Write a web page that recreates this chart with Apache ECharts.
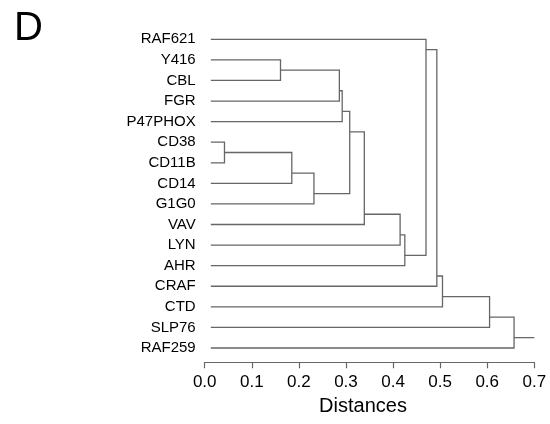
<!DOCTYPE html>
<html>
<head>
<meta charset="utf-8">
<script src="https://cdn.jsdelivr.net/npm/echarts@6/dist/echarts.min.js"></script>
<style>
  html, body { margin: 0; padding: 0; background: #fff; }
  #chart { width: 550px; height: 424px; }
</style>
</head>
<body>
<div id="chart"></div>
<script>
// leaves, top to bottom
const leaves = ["RAF621", "Y416", "CBL", "FGR", "P47PHOX", "CD38", "CD11B", "CD14",
  "G1G0", "VAV", "LYN", "AHR", "CRAF", "CTD", "SLP76", "RAF259"];
// hclust style: negative = leaf (1-based), positive = earlier merge (1-based)
const merges = [
  [-6, -7], [-2, -3], [1, -8], [3, -9], [2, -4], [5, -5], [6, 4], [7, -10],
  [8, -11], [9, -12], [-1, 10], [11, -13], [12, -14], [13, -15], [14, -16]
];
const heights = [0.042, 0.161, 0.185, 0.232, 0.286, 0.292, 0.308, 0.339,
  0.415, 0.425, 0.470, 0.493, 0.505, 0.605, 0.657];
const leafStart = 0.013;
const rootTip = 0.7;

// node info: height, y position, first / last leaf
const nodes = [];
function info(ref) {
  if (ref < 0) {
    const i = -ref - 1;
    return { h: leafStart, y: i, first: i, last: i };
  }
  return nodes[ref - 1];
}
const links = [];
merges.forEach(function (m, k) {
  const a = info(m[0]), b = info(m[1]);
  const h = heights[k];
  links.push({ coords: [[a.h, a.y], [h, a.y], [h, b.y], [b.h, b.y]] });
  nodes.push({ h: h, y: (a.last + b.first) / 2, first: a.first, last: b.last });
});
const root = nodes[nodes.length - 1];
links.push({ coords: [[root.h, root.y], [rootTip, root.y]] });

const myChart = echarts.init(document.getElementById("chart"));
const option = {
  backgroundColor: "#fff",
  animation: false,
  title: {
    text: "D",
    left: 9,
    top: 4,
    textStyle: { fontFamily: "Liberation Sans", fontSize: 40, fontWeight: "normal", color: "#000" }
  },
  grid: { left: 204.7, right: 15.7, top: 29, bottom: 65.7 },
  xAxis: {
    type: "value",
    position: "bottom",
    min: 0,
    max: 0.7,
    interval: 0.1,
    offset: 4,
    name: "Distances",
    nameLocation: "middle",
    nameGap: 33,
    nameTextStyle: { fontFamily: "Liberation Sans", fontSize: 20, color: "#000", padding: [0, 13, 0, 0] },
    axisLine: { onZero: false, lineStyle: { color: "#666", width: 1.2 } },
    axisTick: { length: 6, lineStyle: { color: "#666", width: 1.2 } },
    axisLabel: {
      margin: 12,
      fontFamily: "Liberation Sans",
      fontSize: 17,
      color: "#000",
      formatter: function (v) { return v.toFixed(1); }
    },
    splitLine: { show: false }
  },
  yAxis: [
    {
      type: "category",
      data: leaves,
      inverse: true,
      axisLine: { show: false },
      axisTick: { show: false },
      axisLabel: { margin: 9, fontFamily: "Liberation Sans", fontSize: 15, color: "#000" },
      splitLine: { show: false }
    },
    {
      type: "value",
      min: -0.5,
      max: leaves.length - 0.5,
      inverse: true,
      show: false,
      splitLine: { show: false }
    }
  ],
  series: [
    {
      type: "lines",
      coordinateSystem: "cartesian2d",
      xAxisIndex: 0,
      yAxisIndex: 1,
      polyline: true,
      silent: true,
      lineStyle: { color: "#666", width: 1.3, opacity: 1 },
      data: links
    }
  ]
};
option && myChart.setOption(option);
</script>
</body>
</html>
